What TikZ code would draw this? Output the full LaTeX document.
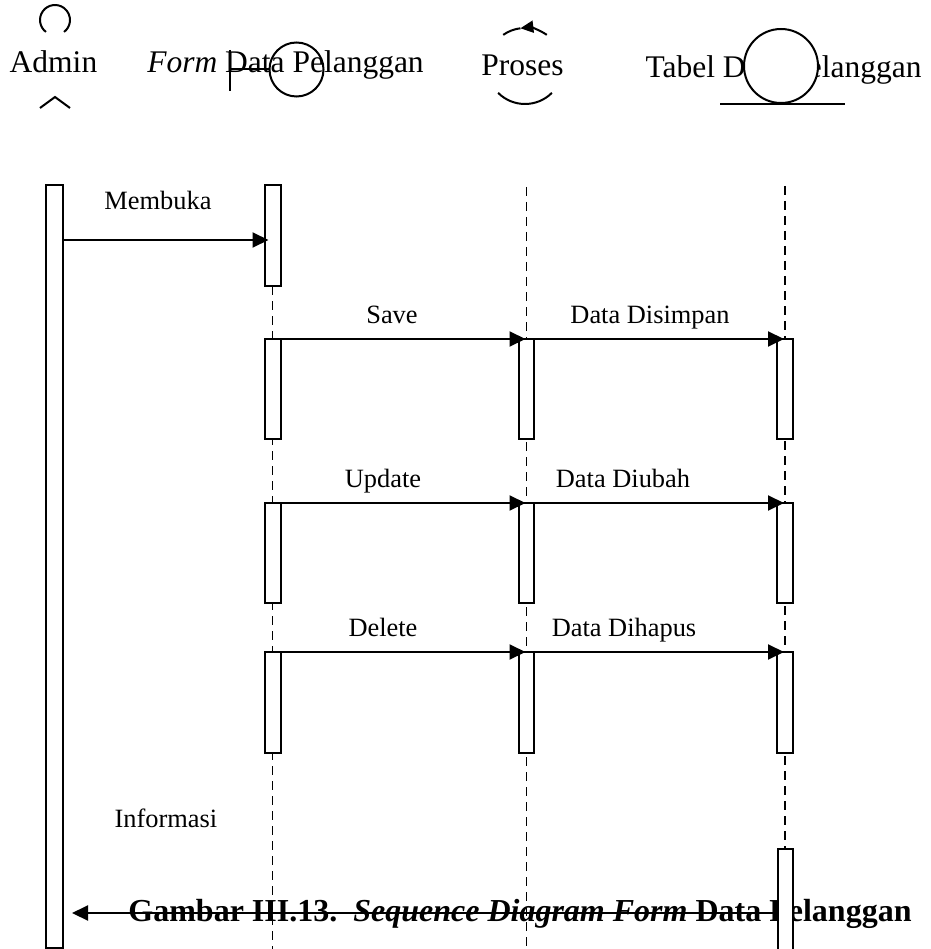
\documentclass[tikz,border=0pt]{standalone}
\usepackage{fontspec}
\setmainfont{Liberation Serif}
\usetikzlibrary{arrows.meta}
\begin{document}
\begin{tikzpicture}[x=1pt,y=-1pt,
  lbl/.style={font=\fontsize{26.4}{30}\selectfont, anchor=base, inner sep=0pt},
  hdr/.style={font=\fontsize{31.5}{36}\selectfont, anchor=base, inner sep=0pt},
  actbox/.style={draw, line width=2pt, fill=white, minimum width=16pt, anchor=north, inner sep=0pt, outer sep=0pt},
  life/.style={line width=1.8pt, dash pattern=on 9pt off 6pt},
  msg/.style={line width=2pt, -{Triangle[length=16pt,width=15pt]}},
  icon/.style={line width=2pt}]
\useasboundingbox (0,0) rectangle (930,949);

% caption (drawn first: lines and boxes pass over it)
\node[anchor=base, inner sep=0pt, font=\fontsize{32}{36}\selectfont\bfseries] (cap) at (520,921)
  {Gambar III.13.\ \ \textit{Sequence Diagram Form} Data Pelanggan};

% header texts
\node[hdr] (hadmin) at (53.5,73) {Admin};
\node[hdr] (hform) at (285.5,73) {\textit{Form} Data Pelanggan};
\node[hdr] (hproses) at (522.5,76) {Proses};
\node[hdr] (htabel) at (783.5,78) {Tabel Data Pelanggan};

% actor icon (visible parts)
\draw[icon] (55,20) ++(127:15) arc[start angle=127, end angle=413, radius=15];
\draw[icon] (40,108) -- (55,97) -- (70,108);

% boundary icon
\node[draw, circle, line width=2pt, minimum size=54pt, inner sep=0pt] (fcirc) at (296.5,69.5) {};
\coordinate (fbar) at (230,69.5);
\draw[icon] (230,50) -- (230,91);
\draw[icon] (fbar) -- (fcirc.west);

% control icon
\draw[icon, -{Triangle[length=13pt,width=12pt]}] (525,66) ++(305:38) arc[start angle=305, end angle=263, radius=38];
\draw[icon] (525,66) ++(263:38) arc[start angle=263, end angle=235, radius=38];
\draw[icon] (525,66) ++(45:38) arc[start angle=45, end angle=135, radius=38];

% entity icon
\node[draw, circle, fill=white, line width=2pt, minimum size=74pt, inner sep=0pt] (tcirc) at (781,66) {};
\draw[icon] (tcirc.south) ++(-61,0) -- ++(125,0);

% lifelines
\coordinate (ptop) at (526.5,187);
\coordinate (pbot) at (526.5,950);
\coordinate (ttop) at (785,186);
\coordinate (fbot) at (272.5,950);

\node[actbox, minimum width=17pt, minimum height=763pt] (admin) at (54.5,185) {};
\node[actbox, minimum height=101pt] (f1) at (272.5,185) {};
\draw[life] (f1.south) -- (fbot);
\draw[life] (ptop) -- (pbot);
\node[actbox, minimum height=101pt, minimum width=15pt] (t5) at (785,849) {};
\draw[life] (ttop) -- (t5.north);

\foreach \yy/\hh/\k in {339/100/2, 503/100/3, 652/101/4} {
  \node[actbox, minimum height=\hh pt] (f\k) at (272.5,\yy) {};
  \node[actbox, minimum height=\hh pt, minimum width=15pt] (p\k) at (526.5,\yy) {};
  \node[actbox, minimum height=\hh pt, minimum width=16pt] (t\k) at (785,\yy) {};
}

% messages
\draw[msg, shorten >=-4pt] (admin.east |- 0,240) -- (f1.west |- 0,240);
\draw[msg, shorten >=1pt] (f2.north west) -- (p2.north);
\draw[msg, shorten >=1pt] (p2.north west) -- (t2.north);
\draw[msg, shorten >=1pt] (f3.north west) -- (p3.north);
\draw[msg, shorten >=1pt] (p3.north west) -- (t3.north);
\draw[msg, shorten >=1pt] (f4.north west) -- (p4.north);
\draw[msg, shorten >=1pt] (p4.north west) -- (t4.north);
\draw[msg, shorten >=9pt] (t5.west |- 0,913) -- (admin.east |- 0,913);

% message labels
\node[lbl] (lmembuka) at (158,210) {Membuka};
\node[lbl] (lsave) at (392,323) {Save};
\node[lbl] (ldisimpan) at (650,323) {Data Disimpan};
\node[lbl] (lupdate) at (383,487) {Update};
\node[lbl] (ldiubah) at (623,487) {Data Diubah};
\node[lbl] (ldelete) at (383,636) {Delete};
\node[lbl] (ldihapus) at (624,636) {Data Dihapus};
\node[lbl] (linfo) at (166,827) {Informasi};
\end{tikzpicture}
\end{document}
